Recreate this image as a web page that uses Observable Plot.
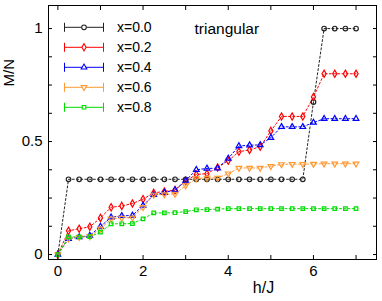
<!DOCTYPE html>
<html>
<head>
<meta charset="utf-8">
<script src="https://cdn.jsdelivr.net/npm/d3@7"></script>
<script src="https://cdn.jsdelivr.net/npm/@observablehq/plot@0.6"></script>
<style>
  body { margin: 0; background: white; }
  #chart { position: relative; width: 382px; height: 301px; }
</style>
</head>
<body>
<div id="chart"></div>
<script>
// field h/J values
const hValues = [0, 0.25, 0.5, 0.75, 1, 1.25, 1.5, 1.75, 2, 2.25, 2.5, 2.75, 3, 3.25, 3.5, 3.75,
  4, 4.25, 4.5, 4.75, 5, 5.25, 5.5, 5.75, 6, 6.25, 6.5, 6.75, 7];

// M/N per series
const m00 = [0, 0.333, 0.333, 0.333, 0.333, 0.333, 0.333, 0.333, 0.333, 0.333, 0.333, 0.333, 0.333, 0.333, 0.333, 0.333,
  0.333, 0.333, 0.333, 0.333, 0.333, 0.333, 0.333, 0.333, 0.675, 1, 1, 1, 1];
const m02 = [0, 0.105, 0.114, 0.123, 0.162, 0.209, 0.215, 0.226, 0.245, 0.273, 0.279, 0.285, 0.325, 0.354, 0.358, 0.385,
  0.415, 0.455, 0.463, 0.477, 0.547, 0.611, 0.611, 0.611, 0.697, 0.8, 0.8, 0.8, 0.8];
const m04 = [0, 0.07, 0.077, 0.084, 0.124, 0.165, 0.171, 0.173, 0.217, 0.264, 0.274, 0.286, 0.327, 0.375, 0.381, 0.382,
  0.425, 0.48, 0.484, 0.485, 0.517, 0.565, 0.565, 0.565, 0.584, 0.601, 0.601, 0.601, 0.601];
const m06 = [0, 0.07, 0.077, 0.08, 0.114, 0.158, 0.162, 0.163, 0.209, 0.264, 0.266, 0.268, 0.305, 0.336, 0.339, 0.339,
  0.358, 0.383, 0.383, 0.383, 0.391, 0.399, 0.4, 0.4, 0.401, 0.402, 0.402, 0.402, 0.402];
const m08 = [0, 0.078, 0.078, 0.079, 0.099, 0.136, 0.136, 0.137, 0.158, 0.184, 0.184, 0.185, 0.19, 0.198, 0.199, 0.201,
  0.203, 0.203, 0.203, 0.203, 0.203, 0.203, 0.203, 0.203, 0.203, 0.203, 0.203, 0.203, 0.203];

const seriesLabels = ["x=0.0", "x=0.2", "x=0.4", "x=0.6", "x=0.8"];
const seriesValues = [m00, m02, m04, m06, m08];
const seriesColors = ["#222222", "#ff0000", "#0000ff", "#ff9933", "#00dd00"];

const xTickLabels = [0, 2, 4, 6];
const xTickMarks = [0, 1, 2, 3, 4, 5, 6, 7];
const yTickLabels = [0, 0.5, 1];
const yTickMarks = [0, 0.125, 0.25, 0.375, 0.5, 0.625, 0.75, 0.875, 1];

// downward triangle symbol
const triangleDown = {
  draw(context, size) {
    const y = -Math.sqrt(size / (Math.sqrt(3) * 3));
    context.moveTo(0, -y * 2);
    context.lineTo(-Math.sqrt(3) * y, y);
    context.lineTo(Math.sqrt(3) * y, y);
    context.closePath();
  }
};
const seriesSymbols = [d3.symbolCircle, d3.symbolDiamond, d3.symbolTriangle, triangleDown, d3.symbolSquare];
const seriesR = [2.3, 2.2, 2.1, 2.1, 2.0];

const marks = [];
seriesValues.forEach((vals, i) => {
  const rows = hValues.map((h, j) => ({h, m: vals[j]}));
  marks.push(Plot.line(rows, {x: "h", y: "m", stroke: seriesColors[i], strokeWidth: 1, strokeDasharray: "2,2.2"}));
});
seriesValues.forEach((vals, i) => {
  const rows = hValues.map((h, j) => ({h, m: vals[j]}));
  marks.push(Plot.dot(rows, {x: "h", y: "m", stroke: seriesColors[i], fill: "none", strokeWidth: 1.2,
    symbol: seriesSymbols[i], r: seriesR[i]}));
});

const plot = Plot.plot({
  width: 382,
  height: 301,
  marginLeft: 48,
  marginRight: 6,
  marginTop: 5,
  marginBottom: 42,
  x: {domain: [-0.22, 7.48]},
  y: {domain: [-0.022, 1.102]},
  style: {fontFamily: "'Liberation Sans', Arial, sans-serif", fontSize: "15px", background: "white", color: "black"},
  marks: [
    ...marks,
    Plot.frame({stroke: "black", strokeWidth: 1}),
    Plot.axisX(xTickMarks, {anchor: "bottom", tickSize: 4, dy: -4, tickFormat: () => "", label: null}),
    Plot.axisX(xTickMarks, {anchor: "top", tickSize: 4, dy: 4, tickFormat: () => "", label: null}),
    Plot.axisY(yTickMarks, {anchor: "left", tickSize: 4, dx: 4, tickFormat: () => "", label: null}),
    Plot.axisY(yTickMarks, {anchor: "right", tickSize: 4, dx: -4, tickFormat: () => "", label: null}),
    Plot.axisX(xTickLabels, {anchor: "bottom", tickSize: 0, tickPadding: 6, label: null, fontSize: 15, tickFormat: d => String(d)}),
    Plot.axisY(yTickLabels, {anchor: "left", tickSize: 0, tickPadding: 6, label: null, fontSize: 15, tickFormat: d => String(d)}),
    Plot.text(["h/J"], {frameAnchor: "bottom", dx: 51, dy: 28, fontSize: 16, lineAnchor: "middle"}),
    Plot.text(["M/N"], {frameAnchor: "left", rotate: -90, dx: -39, dy: -46, fontSize: 15, lineAnchor: "middle"}),
    Plot.text(["triangular"], {frameAnchor: "top-left", textAnchor: "start", lineAnchor: "top", dx: 146, dy: 17, fontSize: 15.5})
  ]
});

document.getElementById("chart").appendChild(plot);

// legend drawn into the svg
const svg = d3.select(plot);
const lg = svg.append("g").attr("class", "legend").attr("text-anchor", "start");
seriesLabels.forEach((label, i) => {
  const y = 27.3 + i * 20;
  const g = lg.append("g").attr("stroke", seriesColors[i]).attr("fill", "none").attr("stroke-width", 1);
  g.append("line").attr("x1", 64).attr("x2", 104).attr("y1", y).attr("y2", y);
  g.append("line").attr("x1", 64.5).attr("x2", 64.5).attr("y1", y - 4.5).attr("y2", y + 4.5);
  g.append("line").attr("x1", 103.5).attr("x2", 103.5).attr("y1", y - 4.5).attr("y2", y + 4.5);
  g.append("path")
    .attr("transform", `translate(84,${y})`)
    .attr("fill", "white")
    .attr("stroke-width", 1.1)
    .attr("d", d3.symbol(seriesSymbols[i], Math.PI * seriesR[i] * seriesR[i])());
  lg.append("text")
    .attr("x", 117).attr("y", y)
    .attr("dy", "0.36em")
    .attr("font-size", 14)
    .attr("fill", "black")
    .attr("text-anchor", "start")
    .text(label);
});
</script>
</body>
</html>
